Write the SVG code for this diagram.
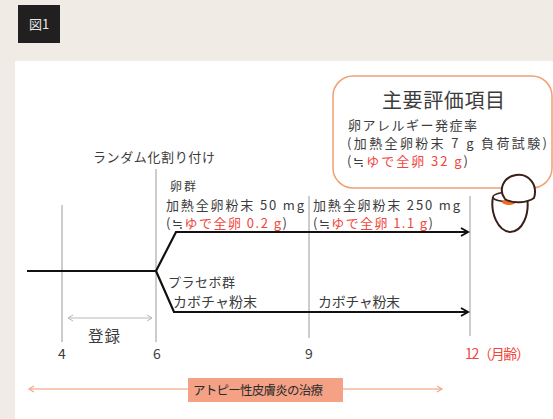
<svg xmlns="http://www.w3.org/2000/svg" width="553" height="419" viewBox="0 0 553 419">
  <style>
    text { font-family: "Noto Sans CJK JP", "Noto Sans", sans-serif; fill: #3c3c3c; }
    .t13 { font-size: 13px; }
    .t14 { font-size: 14px; }
    .red { fill: #f0463c; }
    .grid { stroke: #9a9a9a; stroke-width: 1; fill: none; }
    .path { stroke: #111; stroke-width: 2.2; fill: none; stroke-linejoin: miter; }
  </style>
  <defs>
    <marker id="arrowBlack" markerWidth="10" markerHeight="10" refX="8" refY="5" orient="auto" markerUnits="userSpaceOnUse">
      <path d="M1,1 L8,5 L1,9" fill="none" stroke="#111" stroke-width="2"/>
    </marker>
    <marker id="arrowGray" markerWidth="8" markerHeight="8" refX="6" refY="4" orient="auto-start-reverse" markerUnits="userSpaceOnUse">
      <path d="M1,1 L6,4 L1,7" fill="none" stroke="#b8b8b8" stroke-width="1"/>
    </marker>
    <marker id="arrowOrange" markerWidth="8" markerHeight="8" refX="6" refY="4" orient="auto-start-reverse" markerUnits="userSpaceOnUse">
      <path d="M1,1 L6,4 L1,7" fill="none" stroke="#f2a888" stroke-width="1.2"/>
    </marker>
  </defs>

  <!-- page background and panel -->
  <rect x="0" y="0" width="553" height="419" fill="#f0ece5"/>
  <rect x="15" y="61" width="538" height="358" fill="#ffffff"/>

  <!-- figure tag -->
  <g id="figure-tag">
    <rect x="18" y="5" width="42" height="38" fill="#221f20"/>
    <text x="39" y="29" font-size="13" text-anchor="middle" style="fill:#e8e8e8">図1</text>
  </g>

  <!-- primary endpoint box -->
  <g id="endpoint-box">
    <rect x="333" y="76" width="219" height="112" rx="20" ry="20" fill="#ffffff" stroke="#f2a070" stroke-width="1.5"/>
    <text x="382" y="108" font-size="20" textLength="123" lengthAdjust="spacing">主要評価項目</text>
    <text x="348" y="130" class="t13" textLength="129" lengthAdjust="spacing">卵アレルギー発症率</text>
    <text x="347" y="148" class="t13" textLength="200" lengthAdjust="spacing">(加熱全卵粉末 7 g 負荷試験)</text>
    <text x="347" y="166" class="t13" textLength="121" lengthAdjust="spacing">(≒<tspan class="red">ゆで全卵 32 g</tspan>)</text>
  </g>

  <!-- egg illustration -->
  <g id="egg">
    <path d="M493,197 C490,213 498,231 510,232 C522,232 530,215 527,197" fill="#ffffff" stroke="#3a1f1a" stroke-width="2"/>
    <ellipse cx="510" cy="197" rx="17" ry="5" fill="#ffffff" stroke="#3a1f1a" stroke-width="1.6"/>
    <ellipse cx="509" cy="202" rx="7" ry="3" fill="#f06a1e"/>
    <path d="M505,199 C498,190 503,177 516,175 C529,173 538,185 534,198 C527,203 513,204 505,199 Z" fill="#ffffff" stroke="#3a1f1a" stroke-width="2"/>
  </g>

  <!-- timeline gridlines -->
  <g id="gridlines">
    <line class="grid" x1="62" y1="205" x2="62" y2="342"/>
    <line class="grid" x1="156" y1="169" x2="156" y2="342"/>
    <line class="grid" x1="309" y1="196" x2="309" y2="338"/>
    <line class="grid" x1="470" y1="196" x2="470" y2="336"/>
  </g>

  <!-- connectors -->
  <g id="connectors">
    <polyline class="path" points="27,271 156,271 176,232 468,232" marker-end="url(#arrowBlack)"/>
    <polyline class="path" points="156,271 174,312 468,312" marker-end="url(#arrowBlack)"/>
    <line x1="68" y1="318" x2="152" y2="318" stroke="#b8b8b8" stroke-width="1" marker-start="url(#arrowGray)" marker-end="url(#arrowGray)"/>
    <line x1="29" y1="389" x2="442" y2="389" stroke="#f5b89c" stroke-width="1.5" marker-start="url(#arrowOrange)" marker-end="url(#arrowOrange)"/>
  </g>

  <!-- labels -->
  <g id="randomization">
    <text x="93" y="162" class="t13" textLength="122" lengthAdjust="spacing">ランダム化割り付け</text>
  </g>
  <g id="egg-group">
    <text x="170" y="191" font-size="12" textLength="26" lengthAdjust="spacing">卵群</text>
    <text x="166" y="210" class="t13" textLength="138" lengthAdjust="spacing">加熱全卵粉末 50 mg</text>
    <text x="166" y="228" class="t13" textLength="121" lengthAdjust="spacing">(≒<tspan class="red">ゆで全卵 0.2 g</tspan>)</text>
    <text x="313" y="210" class="t13" textLength="147" lengthAdjust="spacing">加熱全卵粉末 250 mg</text>
    <text x="313" y="228" class="t13" textLength="120" lengthAdjust="spacing">(≒<tspan class="red">ゆで全卵 1.1 g</tspan>)</text>
  </g>
  <g id="placebo-group">
    <text x="168" y="287" class="t13" textLength="67" lengthAdjust="spacing">プラセボ群</text>
    <text x="173" y="307" class="t14" textLength="84" lengthAdjust="spacing">カボチャ粉末</text>
    <text x="318" y="307" class="t14" textLength="82" lengthAdjust="spacing">カボチャ粉末</text>
  </g>
  <g id="enrollment">
    <text x="88" y="342" font-size="15.5" textLength="32" lengthAdjust="spacing">登録</text>
  </g>
  <g id="axis-labels">
    <text x="62" y="359" class="t14" text-anchor="middle">4</text>
    <text x="157" y="359" class="t14" text-anchor="middle">6</text>
    <text x="309" y="359" class="t14" text-anchor="middle">9</text>
    <text x="465" y="359" class="t14 red" textLength="65" lengthAdjust="spacing">12（月齢）</text>
  </g>
  <g id="treatment">
    <rect x="188" y="378" width="155" height="24" fill="#f4a186"/>
    <text x="193" y="395" font-size="12.5" textLength="130" lengthAdjust="spacing" style="fill:#2a2a2a">アトピー性皮膚炎の治療</text>
  </g>
</svg>
